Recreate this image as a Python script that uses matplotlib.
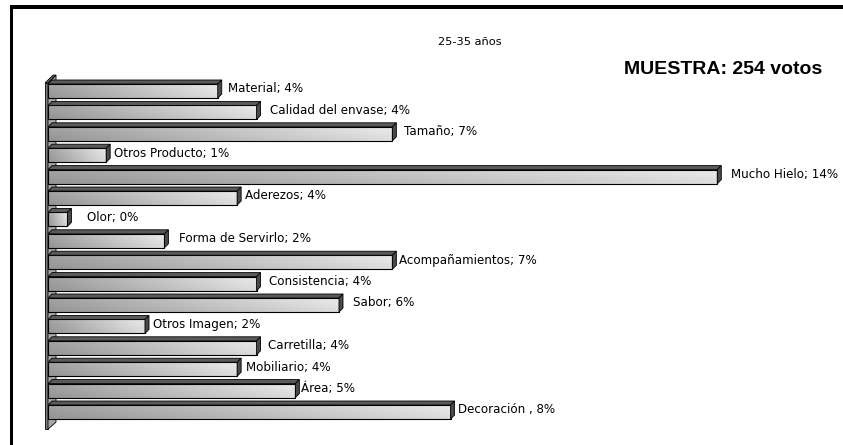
# encoding: utf-8

import numpy as np
import matplotlib
matplotlib.use("Agg")
import matplotlib.pyplot as plt
from matplotlib.patches import Polygon, Rectangle

# datos (porcentaje aproximado de votos)
categorias = ["Material", "Calidad del envase", "Tamaño", "Otros Producto", "Mucho Hielo",
              "Aderezos", "Olor", "Forma de Servirlo", "Acompañamientos", "Consistencia",
              "Sabor", "Otros Imagen", "Carretilla", "Mobiliario", "Área", "Decoración"]
valores = [3.5, 4.3, 7.1, 1.2, 13.8, 3.9, 0.4, 2.4, 7.1, 4.3, 6.0, 2.0, 4.3, 3.9, 5.1, 8.3]
etiquetas = ["Material; 4%", "Calidad del envase; 4%", "Tamaño; 7%", "Otros Producto; 1%",
             "Mucho Hielo; 14%", "Aderezos; 4%", "Olor; 0%", "Forma de Servirlo; 2%",
             "Acompañamientos; 7%", "Consistencia; 4%", "Sabor; 6%", "Otros Imagen; 2%",
             "Carretilla; 4%", "Mobiliario; 4%", "Área; 5%", "Decoración , 8%"]

titulo = "25-35 años"
muestra = "MUESTRA: 254 votos"

# separacion de cada etiqueta respecto a la barra (pixeles), como en el original
sep_etiqueta = [5, 8, 6, 2, 8, 2, 14, 9, 1, 7, 9, 3, 6, 3, 0, 2]

W, H = 843, 445
fig = plt.figure(figsize=(W / 100, H / 100), dpi=100)
ax = fig.add_axes([0, 0, 1, 1])
ax.axis("off")

# escala: pixeles por punto porcentual y por barra
kx = 48.5
x0 = 48
ky = 21.4
y0 = 91

dx = 4 / kx        # profundidad 3D
dy = 4 / ky
h = 14 / ky        # alto de la cara frontal

# pared izquierda
n = len(valores)
wt = -0.5 + 0.13
wb = n - 1 + 0.5 + 0.3
wall_front = Polygon([(-3 / kx, wt), (0, wt), (0, wb), (-3 / kx, wb)],
                     closed=True, facecolor="#7c7c7c", edgecolor="black", lw=0.6, zorder=1)
wall_side = Polygon([(0, wt), (8 / kx, wt - 8 / ky), (8 / kx, wb - 7 / ky), (0, wb)],
                    closed=True, facecolor="#a8a8a8", edgecolor="black", lw=0.6, zorder=1)
wall_top = Polygon([(-3 / kx, wt), (5 / kx, wt - 8 / ky), (8 / kx, wt - 8 / ky), (0, wt)],
                   closed=True, facecolor="#666666", edgecolor="black", lw=0.6, zorder=1)
for p in (wall_front, wall_side, wall_top):
    ax.add_patch(p)

# gradiente de la cara frontal
gx = np.linspace(0, 1, 200)[None, :]
gy = np.linspace(0, 1, 20)[:, None]
grad = 0.64 + 0.28 * gx - 0.06 * gy

for i, (v, lab, sep) in enumerate(zip(valores, etiquetas, sep_etiqueta)):
    top = i - h / 2
    bot = i + h / 2
    ax.imshow(grad, extent=(0, v, bot, top), aspect="auto", cmap="gray",
              vmin=0, vmax=1, zorder=2, interpolation="bilinear")
    ax.barh(i, v, height=h, left=0, facecolor="none", edgecolor="black", lw=0.8, zorder=3)
    ax.add_patch(Polygon([(0, top), (v, top), (v + dx, top - dy), (dx, top - dy)],
                         closed=True, facecolor="#5a5a5a", edgecolor="black", lw=0.6, zorder=3))
    ax.add_patch(Polygon([(v, top), (v + dx, top - dy), (v + dx, bot - dy), (v, bot)],
                         closed=True, facecolor="#4a4a4a", edgecolor="black", lw=0.6, zorder=3))
    ax.annotate(lab, (v + dx, i - dy / 2), xytext=(sep * 0.72 + 1, 0), textcoords="offset points",
                ha="left", va="center", fontsize=8.6, color="black", zorder=4)

ax.set_xlim(-x0 / kx, (W - x0) / kx)
ax.set_ylim((H - y0) / ky, -y0 / ky)

fig.text(470 / W, 1 - 42 / H, titulo, ha="center", va="center", fontsize=8.2)
fig.text(822 / W, 1 - 69 / H, muestra, ha="right", va="center", fontsize=14,
         fontweight="bold", family="Liberation Sans")

# marco negro superior e izquierdo
fig.add_artist(Rectangle((10 / W, 0), 3 / W, 1 - 5 / H, transform=fig.transFigure,
                         facecolor="black", edgecolor="none"))
fig.add_artist(Rectangle((10 / W, 1 - 9 / H), (W - 10) / W, 4 / H, transform=fig.transFigure,
                         facecolor="black", edgecolor="none"))

fig.savefig("out.png", dpi=100, facecolor="white")
